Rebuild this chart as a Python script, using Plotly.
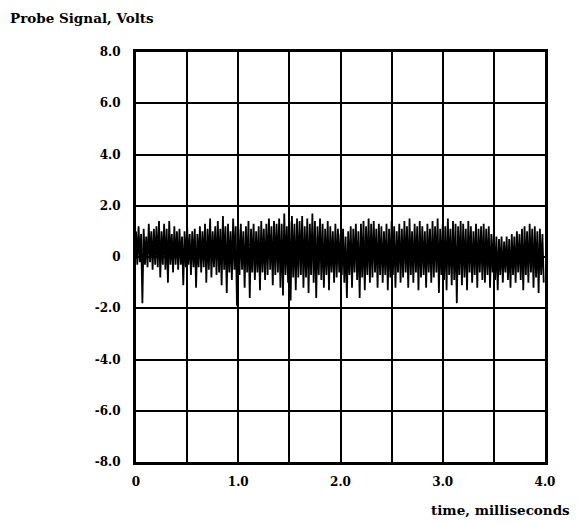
import plotly.graph_objects as go

# Signal envelope: alternating peak / trough values (V),
# one pair every 0.025 ms over 0..4 ms
peaks = [
    1.0, 1.2, 0.9, 1.1, 0.8, 1.3, 1.0, 1.1,
    1.2, 1.4, 1.0, 1.3, 1.1, 1.4, 0.9, 1.2,
    1.0, 1.1, 0.8, 1.0, 1.2, 0.9, 1.0, 1.1,
    0.9, 1.2, 1.0, 1.3, 1.1, 1.5, 1.0, 1.2,
    1.4, 1.1, 1.6, 1.2, 1.3, 1.0, 1.5, 1.2,
    1.1, 1.3, 1.0, 1.2, 1.4, 1.1, 1.3, 1.0,
    1.2, 1.4, 1.1, 1.3, 1.5, 1.2, 1.4, 1.3,
    1.5, 1.3, 1.7, 1.2, 1.4, 1.6, 1.3, 1.5,
    1.4, 1.6, 1.2, 1.5, 1.3, 1.7, 1.4, 1.2,
    1.5, 1.3, 1.1, 1.4, 1.2, 1.0, 1.3, 1.1,
    0.9, 1.1, 0.8, 1.0, 1.2, 1.1, 1.3, 1.0,
    1.3, 1.4, 1.2, 1.5, 1.3, 1.4, 1.1, 1.3,
    1.2, 1.0, 1.3, 1.1, 1.4, 1.2, 1.0, 1.3,
    1.1, 1.4, 1.2, 1.5, 1.0, 1.3, 1.2, 1.4,
    1.2, 1.0, 1.3, 1.1, 1.4, 1.2, 1.5, 1.1,
    1.3, 1.2, 1.5, 1.1, 1.4, 1.3, 1.2, 1.4,
    1.3, 1.1, 1.4, 1.2, 1.0, 1.3, 1.1, 1.2,
    1.3, 1.1, 1.2, 0.9, 1.0, 0.8, 0.7, 0.8,
    0.6, 0.8, 0.7, 0.9, 0.8, 1.0, 0.9, 1.1,
    1.2, 1.0, 1.3, 1.1, 1.2, 1.0, 1.1, 0.9,
]
troughs = [
    -0.3, -0.2, -1.8, -0.3, -0.4, -0.2, -0.5, -0.3,
    -0.4, -0.8, -0.3, -0.5, -1.0, -0.3, -0.6, -0.3,
    -0.5, -0.3, -1.1, -0.4, -0.3, -0.7, -0.4, -1.2,
    -0.4, -0.6, -0.4, -1.0, -0.5, -0.8, -0.4, -0.7,
    -0.6, -1.1, -0.5, -1.4, -0.6, -0.9, -0.5, -1.9,
    -0.7, -0.5, -1.2, -0.6, -1.6, -0.6, -0.9, -0.6,
    -1.3, -0.6, -0.9, -0.7, -0.5, -1.1, -0.7, -0.6,
    -1.2, -1.5, -0.7, -1.0, -1.7, -0.8, -1.3, -0.8,
    -0.7, -1.2, -0.8, -1.4, -0.7, -1.0, -1.6, -0.7,
    -0.9, -1.2, -0.7, -1.3, -0.6, -1.0, -0.8, -0.6,
    -0.7, -1.0, -1.6, -0.7, -1.2, -0.6, -0.9, -1.6,
    -0.8, -1.3, -0.7, -1.0, -0.8, -0.6, -1.2, -0.7,
    -1.0, -0.7, -1.3, -0.8, -0.7, -1.2, -0.6, -1.0,
    -0.8, -0.6, -1.2, -0.7, -1.0, -0.6, -1.3, -0.8,
    -0.7, -1.2, -0.6, -1.0, -0.8, -0.6, -1.4, -0.7,
    -0.9, -1.3, -0.7, -1.1, -0.9, -1.8, -0.7, -1.1,
    -0.8, -1.3, -0.6, -1.0, -0.7, -1.2, -0.6, -0.9,
    -1.0, -0.7, -1.2, -0.6, -0.9, -1.3, -0.7, -1.0,
    -0.6, -0.9, -1.2, -0.7, -1.0, -0.6, -0.9, -1.3,
    -0.7, -1.0, -0.6, -1.2, -0.8, -1.4, -0.7, -1.0,
]
step_ms = 0.025

x_tickvals = [0, 0.5, 1.0, 1.5, 2.0, 2.5, 3.0, 3.5, 4.0]
x_ticktext = ["0", "", "1.0", "", "2.0", "", "3.0", "", "4.0"]
y_tickvals = [8, 6, 4, 2, 0, -2, -4, -6, -8]
y_ticktext = ["8.0", "6.0", "4.0", "2.0", "0", "-2.0", "-4.0", "-6.0", "-8.0"]

t, v = [], []
for i, (p, q) in enumerate(zip(peaks, troughs)):
    t.append(i * step_ms)
    v.append(p)
    t.append(i * step_ms + step_ms / 2)
    v.append(q)

FONT = "DejaVu Serif"

fig = go.Figure()
fig.add_trace(go.Scatter(x=t, y=v, mode="lines",
                         line=dict(color="black", width=1.8),
                         showlegend=False, hoverinfo="skip"))

fig.update_layout(
    width=573, height=515,
    margin=dict(l=128, r=36, t=44, b=61),
    paper_bgcolor="white", plot_bgcolor="white",
    font=dict(family=FONT, size=12, color="black"),
    xaxis=dict(range=[0, 4], tickvals=x_tickvals, ticktext=x_ticktext,
               showgrid=True, gridcolor="black", gridwidth=2,
               showline=True, linecolor="black", linewidth=3, mirror=True,
               zeroline=False, ticks="", ticklabelstandoff=7,
               tickfont=dict(family=FONT, size=12, weight="bold")),
    yaxis=dict(range=[-8, 8], tickvals=y_tickvals, ticktext=y_ticktext,
               showgrid=True, gridcolor="black", gridwidth=2,
               showline=True, linecolor="black", linewidth=3, mirror=True,
               zeroline=False, ticks="", ticklabelstandoff=10,
               tickfont=dict(family=FONT, size=12, weight="bold")),
    annotations=[
        dict(text="<b>Probe Signal, Volts</b>", xref="paper", yref="paper",
             x=-0.313, y=1.083, xanchor="left", yanchor="middle",
             showarrow=False, font=dict(family=FONT, size=13.5)),
        dict(text="<b>time, milliseconds</b>", xref="paper", yref="paper",
             x=1.066, y=-0.117, xanchor="right", yanchor="middle",
             showarrow=False, font=dict(family=FONT, size=13.5)),
    ],
)

fig.write_html("out.html")
